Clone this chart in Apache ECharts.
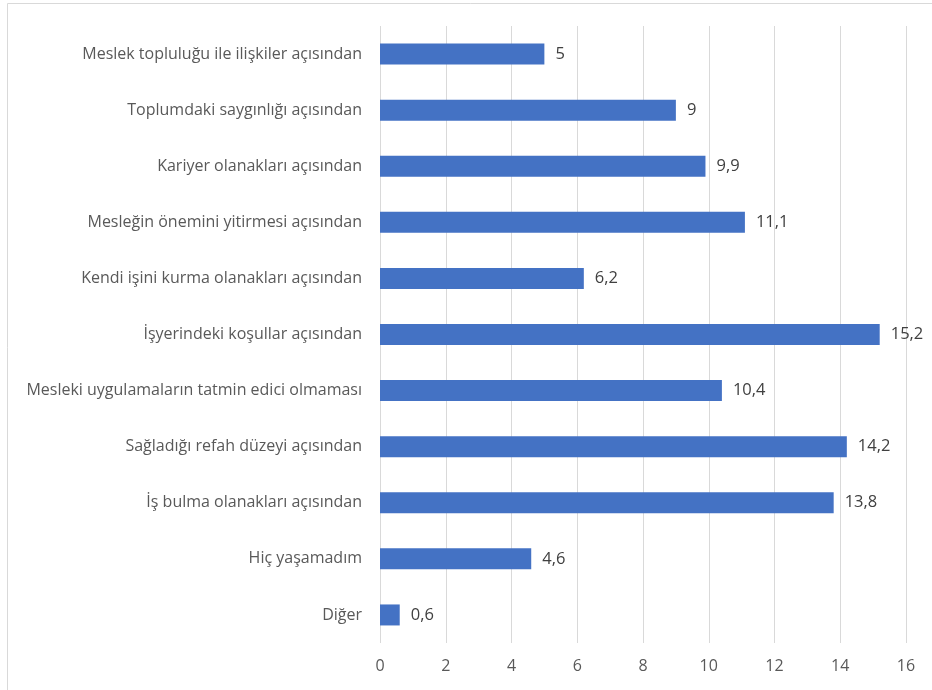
<!DOCTYPE html>
<html>
<head>
<meta charset="utf-8">
<script src="https://cdn.jsdelivr.net/npm/echarts@6/dist/echarts.min.js"></script>
<style>
    html, body { margin: 0; padding: 0; background: #fff; }
    #chart { width: 932px; height: 690px; }
</style>
</head>
<body>
<div id="chart"></div>
<script>
    // kategoriler (yukarıdan aşağıya)
    var categories = [
        'Meslek topluluğu ile ilişkiler açısından',
        'Toplumdaki saygınlığı açısından',
        'Kariyer olanakları açısından',
        'Mesleğin önemini yitirmesi açısından',
        'Kendi işini kurma olanakları açısından',
        'İşyerindeki koşullar açısından',
        'Mesleki uygulamaların tatmin edici olmaması',
        'Sağladığı refah düzeyi açısından',
        'İş bulma olanakları açısından',
        'Hiç yaşamadım',
        'Diğer'
    ];
    var values = [5, 9, 9.9, 11.1, 6.2, 15.2, 10.4, 14.2, 13.8, 4.6, 0.6];

    var myChart = echarts.init(document.getElementById('chart'));
    var myOption = {
        animation: false,
        textStyle: {
            fontFamily: 'Open Sans'
        },
        graphic: [{
            type: 'rect',
            shape: {x: 7.5, y: 3.5, width: 1000, height: 1000},
            style: {fill: 'none', stroke: '#d9d9d9', lineWidth: 1},
            silent: true
        }],
        grid: {
            left: 380,
            right: 26,
            top: 26,
            bottom: 47
        },
        xAxis: {
            type: 'value',
            min: 0,
            max: 16,
            interval: 2,
            axisLine: {show: false},
            axisTick: {show: false},
            axisLabel: {
                color: '#595959',
                fontSize: 16,
                margin: 15
            },
            splitLine: {
                lineStyle: {color: '#d9d9d9', width: 1}
            }
        },
        yAxis: {
            type: 'category',
            inverse: true,
            data: categories,
            axisLine: {show: false},
            axisTick: {show: false},
            axisLabel: {
                color: '#595959',
                fontSize: 16,
                margin: 18
            }
        },
        series: [{
            type: 'bar',
            data: values,
            barWidth: 21,
            itemStyle: {color: '#4472C4'},
            label: {
                show: true,
                position: 'right',
                distance: 11,
                color: '#404040',
                fontSize: 16.5,
                formatter: function (p) {
                    return String(p.value).replace('.', ',');
                }
            }
        }]
    };
    myChart.setOption(myOption);
</script>
</body>
</html>
